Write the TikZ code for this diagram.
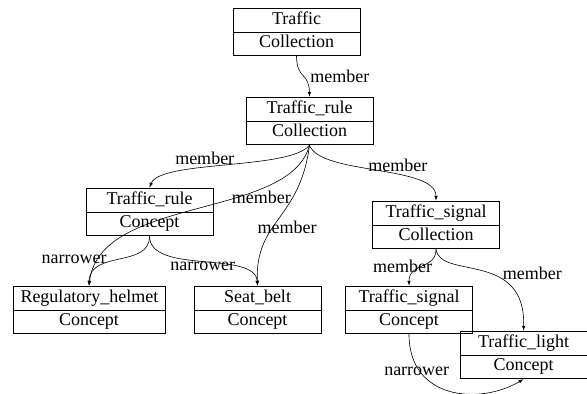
\documentclass[tikz,border=0pt]{standalone}
\usepackage{fontspec}
\setmainfont{Liberation Serif}
\usetikzlibrary{shapes.multipart,arrows.meta}

\tikzset{
  rec/.style={rectangle split, rectangle split parts=2, draw, line width=0.8pt,
    text width=112pt, align=center, inner xsep=7.5pt, inner ysep=1.5pt,
    font=\fontsize{18}{20}\selectfont},
  rel/.style={-{Latex[length=5pt,width=3.5pt]}, line width=0.6pt},
  lbl/.style={font=\fontsize{18}{20}\selectfont, inner sep=1pt}
}
\newcommand{\recpart}[2]{\strut #1\nodepart{two}\strut #2}

\begin{document}
\begin{tikzpicture}[x=1pt,y=-1pt]
  \useasboundingbox (0,0) rectangle (587,394);

  % collections
  \node[rec] (traffic) at (296.5,32) {\recpart{Traffic}{Collection}};
  \node[rec] (ruleCol) at (309.5,121) {\recpart{Traffic\_rule}{Collection}};
  \node[rec] (signalCol) at (436,225) {\recpart{Traffic\_signal}{Collection}};

  % concepts
  \node[rec] (ruleCon) at (149.5,212) {\recpart{Traffic\_rule}{Concept}};
  \node[rec,text width=137pt] (helmet) at (89,310) {\recpart{Regulatory\_helmet}{Concept}};
  \node[rec] (belt) at (257.5,310) {\recpart{Seat\_belt}{Concept}};
  \node[rec] (signalCon) at (409,310) {\recpart{Traffic\_signal}{Concept}};
  \node[rec] (light) at (523.5,355) {\recpart{Traffic\_light}{Concept}};

  % member links
  \draw[rel] (traffic.south) .. controls (297,80) and (309,72) .. (ruleCol.north)
    node[lbl,pos=0.5,right=6pt] {member};
  \draw[rel] (ruleCol.south) .. controls (290,170) and (160,160) .. (ruleCon.north)
    node[lbl,pos=0.6,above=2pt] {member};
  \draw[rel] (ruleCol.south) .. controls (290,220) and (100,195) .. (helmet.north)
    node[lbl,pos=0.3,xshift=6pt,yshift=-6pt] {member};
  \draw[rel] (ruleCol.south) .. controls (300,220) and (255,220) .. (belt.north)
    node[lbl,pos=0.5,xshift=8pt,yshift=-8pt] {member};
  \draw[rel] (ruleCol.south) .. controls (320,175) and (436,165) .. (signalCol.north)
    node[lbl,pos=0.62,above=2pt] {member};
  \draw[rel] (signalCol.south) .. controls (436,270) and (409,262) .. (signalCon.north)
    node[lbl,pos=0.5,xshift=-20pt] {member};
  \draw[rel] (signalCol.south) .. controls (440,280) and (526,250) .. (light.north)
    node[lbl,pos=0.55,right=13pt] {member};

  % narrower links
  \draw[rel] (ruleCon.south) .. controls (150,268) and (90,250) .. (helmet.north)
    node[lbl,pos=0.5,left=12pt] {narrower};
  \draw[rel] (ruleCon.south) .. controls (150,275) and (255,250) .. (belt.north)
    node[lbl,pos=0.5,yshift=-4pt] {narrower};
  \draw[rel] (signalCon.south) .. controls (409,400) and (480,405) .. (light.south)
    node[lbl,pos=0.2,yshift=-5pt] {narrower};
\end{tikzpicture}
\end{document}
